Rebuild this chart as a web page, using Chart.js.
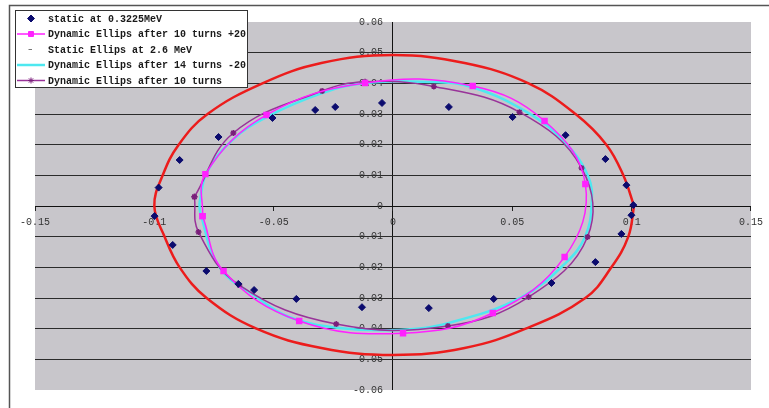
<!DOCTYPE html>
<html>
<head>
<meta charset="utf-8">
<script src="https://cdn.jsdelivr.net/npm/chart.js@4.4.1/dist/chart.umd.min.js"></script>
<style>
  html, body { margin: 0; padding: 0; background: #fff; }
  #wrap { width: 769px; height: 408px; }
</style>
</head>
<body>
<div id="wrap"><canvas id="ellipseChart"></canvas></div>
<script>
// values, x and y kept apart per series
const seriesNames = [
  'static at 0.3225MeV',
  'Dynamic Ellips after 10 turns +20',
  'Static Ellips at 2.6 MeV',
  'Dynamic Ellips after 14 turns -20',
  'Dynamic Ellips after 10 turns'
];

const staticLowX = [-0.0999, -0.0982, -0.0894, -0.0731, -0.0505, -0.0326, -0.0242, -0.0046, 0.0234, 0.0501, 0.0723, 0.0890, 0.0978,
  0.1007, 0.0999, 0.0957, 0.0848, 0.0664, 0.0422, 0.0150, -0.0130, -0.0405, -0.0582, -0.0648, -0.0782, -0.0923];
const staticLowY = [-0.0033, 0.0060, 0.0150, 0.0225, 0.0287, 0.0313, 0.0323, 0.0336, 0.0323, 0.0290, 0.0231, 0.0153, 0.0068,
  0.0003, -0.0030, -0.0091, -0.0183, -0.0251, -0.0303, -0.0333, -0.0330, -0.0303, -0.0274, -0.0254, -0.0212, -0.0127];

const dynPlusX = [-0.0798, -0.0786, -0.0530, -0.0117, 0.0334, 0.0635, 0.0806, 0.0719, 0.0418, 0.0042, -0.0393, -0.0710, -0.0798];
const dynPlusY = [-0.0033, 0.0104, 0.0297, 0.0401, 0.0391, 0.0277, 0.0072, -0.0166, -0.0349, -0.0415, -0.0375, -0.0212, -0.0033];

const staticHighX = [0.1010, 0.0965, 0.0894, 0.0765, 0.0568, 0.0300, 0.0000, -0.0300, -0.0547, -0.0777, -0.0898, -0.0965, -0.1000,
  -0.0957, -0.0894, -0.0781, -0.0572, -0.0300, 0.0000, 0.0300, 0.0556, 0.0806, 0.0915, 0.0986, 0.1010];
const staticHighY = [0.0000, 0.0100, 0.0200, 0.0300, 0.0400, 0.0466, 0.0492, 0.0466, 0.0400, 0.0300, 0.0200, 0.0100, 0.0000,
  -0.0100, -0.0200, -0.0300, -0.0400, -0.0463, -0.0486, -0.0463, -0.0400, -0.0300, -0.0200, -0.0100, 0.0000];

const dynMinusX = [-0.0811, -0.0781, -0.0673, -0.0530, -0.0297, -0.0113, 0.0163, 0.0330, 0.0568, 0.0723, 0.0819, 0.0832, 0.0805,
  0.0723, 0.0539, 0.0234, 0.0025, -0.0226, -0.0435, -0.0572, -0.0727, -0.0807, -0.0811];
const dynMinusY = [0.0010, 0.0108, 0.0215, 0.0290, 0.0368, 0.0401, 0.0404, 0.0388, 0.0303, 0.0205, 0.0095, 0.0003, -0.0100,
  -0.0186, -0.0297, -0.0381, -0.0404, -0.0398, -0.0362, -0.0297, -0.0200, -0.0023, 0.0010];

const dynTenX = [-0.0832, -0.0669, -0.0297, -0.0117, 0.0171, 0.0530, 0.0790, 0.0815, 0.0568, 0.0230, -0.0238, -0.0644, -0.0815, -0.0832];
const dynTenY = [0.0030, 0.0238, 0.0375, 0.0405, 0.0390, 0.0306, 0.0124, -0.0101, -0.0297, -0.0391, -0.0385, -0.0258, -0.0085, 0.0030];

const xTicks = [-0.15, -0.1, -0.05, 0, 0.05, 0.1, 0.15];
const yTicks = [-0.06, -0.05, -0.04, -0.03, -0.02, -0.01, 0, 0.01, 0.02, 0.03, 0.04, 0.05, 0.06];

function pts(xs, ys) {
  return xs.map((x, i) => ({ x: x, y: ys[i] }));
}

const fmt = v => String(+Number(v).toFixed(2));
const FONT = '"Liberation Mono", "DejaVu Sans Mono", monospace';

// grey plot area + outer frame
const plotBack = {
  id: 'plotBack',
  beforeDraw(chart) {
    const { ctx, chartArea: a } = chart;
    ctx.save();
    ctx.fillStyle = '#c8c6cb';
    ctx.fillRect(a.left, a.top, a.right - a.left, a.bottom - a.top);
    ctx.strokeStyle = '#555';
    ctx.lineWidth = 1.5;
    ctx.strokeRect(9.5, 5.5, 800, 500);
    ctx.restore();
  }
};

// excel style legend box in the top left corner
const legendBox = {
  id: 'legendBox',
  afterDraw(chart) {
    const ctx = chart.ctx;
    ctx.save();
    ctx.fillStyle = '#fff';
    ctx.fillRect(15, 10, 232, 77);
    ctx.strokeStyle = '#333';
    ctx.lineWidth = 1;
    ctx.strokeRect(15.5, 10.5, 232, 77);
    ctx.font = 'bold 10px ' + FONT;
    ctx.textBaseline = 'middle';
    chart.data.datasets.forEach((ds, i) => {
      const y = 18.5 + i * 15.5;
      if (ds.showLine && ds.legendLine !== false) {
        ctx.strokeStyle = ds.borderColor;
        ctx.lineWidth = ds.borderWidth;
        ctx.beginPath();
        ctx.moveTo(17, y);
        ctx.lineTo(45, y);
        ctx.stroke();
      }
      if (ds.legendDash) {
        ctx.strokeStyle = '#777';
        ctx.lineWidth = 1;
        ctx.beginPath();
        ctx.moveTo(28.5, y);
        ctx.lineTo(32, y);
        ctx.stroke();
      } else if (ds.pointRadius > 0) {
        ctx.fillStyle = ds.pointBackgroundColor;
        ctx.strokeStyle = ds.pointBorderColor;
        ctx.lineWidth = 1;
        Chart.helpers.drawPoint(ctx, { pointStyle: ds.pointStyle, radius: ds.pointRadius, borderWidth: 1, rotation: 0 }, 31, y);
      }
      ctx.fillStyle = '#1a1a1a';
      ctx.fillText(ds.label, 48, y + 0.5);
    });
    ctx.restore();
  }
};

new Chart(document.getElementById('ellipseChart'), {
  type: 'scatter',
  data: {
    datasets: [
      {
        label: seriesNames[0],
        data: pts(staticLowX, staticLowY),
        pointStyle: 'rectRot',
        pointRadius: 3.5,
        pointBackgroundColor: '#0b0b6e',
        pointBorderColor: '#0b0b6e',
        showLine: false,
        order: 0
      },
      {
        label: seriesNames[1],
        data: pts(dynPlusX, dynPlusY),
        showLine: true,
        tension: 0.4,
        borderColor: '#ff22ff',
        borderWidth: 1.5,
        pointStyle: 'rect',
        pointRadius: 3.5,
        pointBackgroundColor: '#ff22ff',
        pointBorderColor: '#ff22ff',
        order: 1
      },
      {
        label: seriesNames[2],
        data: pts(staticHighX, staticHighY),
        showLine: true,
        legendLine: false,
        legendDash: true,
        tension: 0.4,
        borderColor: '#ec1c1c',
        borderWidth: 2.5,
        pointRadius: 0,
        order: 4
      },
      {
        label: seriesNames[3],
        data: pts(dynMinusX, dynMinusY),
        showLine: true,
        tension: 0.4,
        borderColor: '#4ee8f0',
        borderWidth: 2.5,
        pointRadius: 0,
        order: 3
      },
      {
        label: seriesNames[4],
        data: pts(dynTenX, dynTenY),
        showLine: true,
        tension: 0.4,
        borderColor: '#993399',
        borderWidth: 1.5,
        pointStyle: 'star',
        pointRadius: 3,
        pointBackgroundColor: '#7a1f7a',
        pointBorderColor: '#7a1f7a',
        order: 2
      }
    ]
  },
  options: {
    responsive: true,
    maintainAspectRatio: false,
    animation: false,
    layout: { padding: { left: 35, right: 13, top: 22, bottom: 18 } },
    plugins: {
      legend: { display: false },
      tooltip: { enabled: false }
    },
    scales: {
      x: {
        type: 'linear',
        position: { y: 0 },
        min: -0.15,
        max: 0.15,
        afterBuildTicks: s => { s.ticks = xTicks.map(v => ({ value: v })); },
        grid: {
          color: c => (c.tick && c.tick.value === 0 ? '#111' : 'rgba(0,0,0,0)'),
          lineWidth: 1,
          tickColor: '#222',
          tickLength: 4
        },
        border: { display: true, color: '#111', width: 1 },
        ticks: {
          callback: v => fmt(v),
          font: { family: FONT, size: 10 },
          color: '#333',
          padding: 6,
          maxRotation: 0
        }
      },
      y: {
        type: 'linear',
        position: { x: -0.0042 },
        min: -0.06,
        max: 0.06,
        afterBuildTicks: s => { s.ticks = yTicks.map(v => ({ value: v })); },
        grid: {
          color: c => (c.tick && Math.abs(c.tick.value) > 0.055 ? 'rgba(0,0,0,0)' : '#2b2b2b'),
          lineWidth: 1,
          drawTicks: false
        },
        border: { display: false },
        ticks: {
          callback: v => fmt(v),
          font: { family: FONT, size: 10 },
          color: '#333',
          padding: 0
        }
      }
    }
  },
  plugins: [plotBack, legendBox]
});
</script>
</body>
</html>
